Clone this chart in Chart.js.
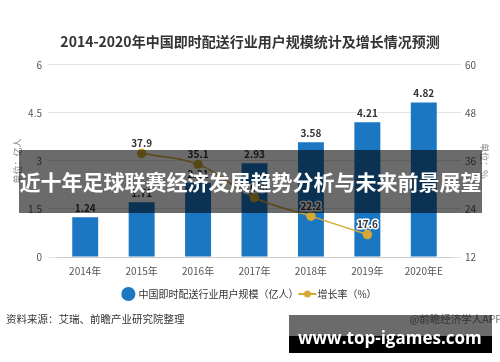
<!DOCTYPE html>
<html>
<head>
<meta charset="utf-8">
<script src="https://cdn.jsdelivr.net/npm/chart.js@4/dist/chart.umd.min.js"></script>
<style>
  body { margin: 0; background: #fff; }
  #wrap { position: relative; width: 500px; height: 362px; font-family: "Noto Sans CJK SC", sans-serif; }
  #c { position: absolute; left: 0; top: 0; }
  .banner { position: absolute; left: 19px; top: 150px; width: 463px; height: 63px; background: rgba(0,0,0,0.58);
    color: #fff; font-weight: bold; font-size: 21px; line-height: 63px; text-align: center; white-space: nowrap; }
  .src { position: absolute; left: 6px; top: 311px; font-size: 10.5px; color: #333; white-space: nowrap; }
  .app { position: absolute; right: -2px; top: 311px; font-size: 10.5px; color: #777; white-space: nowrap; }
  .wm1 { position: absolute; left: 289px; top: 315px; width: 203px; height: 21px; background: rgba(0,0,0,0.58); }
  .wm2 { position: absolute; left: 289px; top: 336px; width: 203px; height: 17px; background: #000; }
  .wmt { position: absolute; left: 298px; top: 326px; font-family: "Open Sans", sans-serif; font-weight: bold;
    font-size: 17px; line-height: 24px; color: #fff; white-space: nowrap; }
</style>
</head>
<body>
<div id="wrap">
  <canvas id="c" width="500" height="362"></canvas>
  <div class="banner">近十年足球联赛经济发展趋势分析与未来前景展望</div>
  <div class="src">资料来源：艾瑞、前瞻产业研究院整理</div>
  <div class="app">@前瞻经济学人APP</div>
  <div class="wm1"></div>
  <div class="wm2"></div>
  <div class="wmt">www.top-igames.com</div>
</div>
<script>
const years = ["2014年", "2015年", "2016年", "2017年", "2018年", "2019年", "2020年E"];
const users = [1.24, 1.71, 2.31, 2.93, 3.58, 4.21, 4.82];
const growth = [null, 37.9, 35.1, 26.8, 22.2, 17.6, null];
const leftTicks = [0, 1.5, 3, 4.5, 6];
const rightTicks = [12, 24, 36, 48, 60];

const font = "'Noto Sans CJK SC', sans-serif";
const blue = "#1c77c3";
const gold = "#d4a935";

// legend marker for the line: a short line with a dot
function lineMarker() {
  const cv = document.createElement("canvas");
  cv.width = 20;
  cv.height = 10;
  const g = cv.getContext("2d");
  g.strokeStyle = gold;
  g.lineWidth = 2;
  g.beginPath();
  g.moveTo(1, 5);
  g.lineTo(19, 5);
  g.stroke();
  g.fillStyle = gold;
  g.beginPath();
  g.arc(10, 5, 3.5, 0, Math.PI * 2);
  g.fill();
  return cv;
}

const valueLabels = {
  id: "valueLabels",
  afterDatasetsDraw(chart) {
    const ctx = chart.ctx;
    ctx.save();
    ctx.textAlign = "center";
    ctx.textBaseline = "middle";
    ctx.font = "bold 10px " + font;
    ctx.lineJoin = "round";
    chart.data.datasets.forEach((ds, i) => {
      const meta = chart.getDatasetMeta(i);
      meta.data.forEach((el, j) => {
        const v = ds.data[j];
        if (v === null) return;
        const txt = i === 0 ? v.toFixed(2) : v.toFixed(1);
        const y = i === 0 ? el.y - 9 : el.y - 10;
        ctx.strokeStyle = "#fff";
        ctx.lineWidth = 3;
        ctx.strokeText(txt, el.x, y);
        ctx.fillStyle = "#333";
        ctx.fillText(txt, el.x, y);
      });
    });
    ctx.restore();
  },
};

new Chart(document.getElementById("c"), {
  data: {
    labels: years,
    datasets: [
      {
        type: "bar",
        label: "中国即时配送行业用户规模（亿人）",
        data: users,
        backgroundColor: blue,
        yAxisID: "y",
        barPercentage: 0.46,
        categoryPercentage: 1,
        order: 2,
      },
      {
        type: "line",
        label: "增长率（%）",
        data: growth,
        borderColor: gold,
        backgroundColor: gold,
        borderWidth: 1.5,
        pointRadius: 4,
        pointBackgroundColor: gold,
        pointBorderColor: gold,
        tension: 0.4,
        yAxisID: "y1",
        order: 1,
      },
    ],
  },
  options: {
    responsive: false,
    animation: false,
    devicePixelRatio: 1,
    layout: { padding: { left: 0, right: 0, top: 0, bottom: 53 } },
    plugins: {
      title: {
        display: true,
        text: "2014-2020年中国即时配送行业用户规模统计及增长情况预测",
        color: "#333",
        font: { family: font, size: 14, weight: "bold" },
        padding: { top: 33, bottom: 15 },
      },
      legend: {
        position: "bottom",
        labels: {
          usePointStyle: true,
          color: "#333",
          font: { family: font, size: 10 },
          padding: 4,
          generateLabels: function (chart) {
            return chart.data.datasets.map((ds, i) => ({
              text: ds.label,
              fillStyle: i === 0 ? blue : gold,
              strokeStyle: i === 0 ? blue : gold,
              lineWidth: 0,
              pointStyle: i === 0 ? "circle" : lineMarker(),
              fontColor: "#333",
              datasetIndex: i,
            }));
          },
        },
      },
      tooltip: { enabled: false },
    },
    scales: {
      x: {
        grid: { display: false, drawTicks: false },
        border: { color: "#ccc" },
        ticks: { color: "#555", font: { family: font, size: 10 }, padding: 8 },
      },
      y: {
        position: "left",
        min: 0,
        max: 6,
        afterBuildTicks: (s) => { s.ticks = leftTicks.map((v) => ({ value: v })); },
        afterFit: (s) => { s.width = 57; },
        grid: { color: "#e3e3e3", tickLength: 9 },
        border: { display: false },
        ticks: { color: "#555", font: { family: font, size: 10 }, padding: 6 },
        title: {
          display: true,
          text: "单位：亿人",
          color: "#888",
          font: { family: font, size: 9 },
          padding: { top: 12 },
        },
      },
      y1: {
        position: "right",
        min: 12,
        max: 60,
        afterBuildTicks: (s) => { s.ticks = rightTicks.map((v) => ({ value: v })); },
        afterFit: (s) => { s.width = 48; },
        grid: { drawOnChartArea: false, color: "#e3e3e3", tickLength: 9 },
        border: { display: false },
        ticks: { color: "#555", font: { family: font, size: 10 }, padding: 4 },
        title: {
          display: true,
          text: "单位：%",
          color: "#888",
          font: { family: font, size: 9 },
          padding: { top: 10 },
        },
      },
    },
  },
  plugins: [valueLabels],
});
</script>
</body>
</html>
